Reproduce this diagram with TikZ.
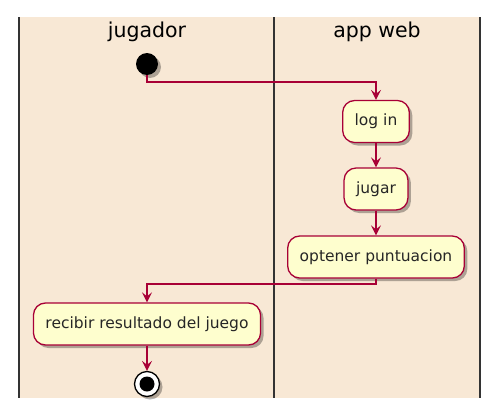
\documentclass[tikz,border=0pt]{standalone}
\usepackage{fontspec}
\setmainfont{DejaVu Sans}
\usetikzlibrary{arrows.meta,shadows,positioning}
\definecolor{lanebg}{HTML}{F8E8D5}
\definecolor{actfill}{HTML}{FEFECE}
\definecolor{actline}{HTML}{A80036}
\tikzset{
  act/.style={draw=actline, fill=actfill, line width=1.3pt, rounded corners=12pt,
    minimum height=42pt, inner xsep=12pt, font=\fontsize{15.5}{18}\selectfont, text=black!85,
    drop shadow={shadow xshift=3pt, shadow yshift=-3pt, fill=black, opacity=0.3}},
  flow/.style={draw=actline, line width=1.3pt, -{Stealth[length=10pt,width=10pt,inset=4pt]}},
  lane/.style={draw=black!80, line width=1.8pt},
  head/.style={font=\fontsize{20.5}{23}\selectfont, text=black}
}
\begin{document}
\begin{tikzpicture}[x=1pt,y=-1pt]
\useasboundingbox (0,0) rectangle (495,415);
\fill[white] (0,0) rectangle (495,415);
\fill[lanebg] (19,17) rectangle (480,398);
\draw[lane] (19,17) -- (19,398);
\draw[lane] (274,17) -- (274,398);
\draw[lane] (480,17) -- (480,398);
\node[head] (h1) at (147,32) {jugador};
\node[head] (h2) at (377,32) {app web};
\node[circle, fill=black, minimum size=22pt, inner sep=0pt,
  drop shadow={shadow xshift=3pt, shadow yshift=-3pt, fill=black, opacity=0.3}] (start) at (147,64) {};
\node[act] (login) at (376,121.5) {log in};
\node[act] (jugar) at (376,189) {jugar};
\node[act] (opt) at (376,257) {optener puntuacion};
\node[act] (recibir) at (147,324) {recibir resultado del juego};
\node[circle, draw=black, line width=1.3pt, fill=white, minimum size=25pt, inner sep=0pt,
  drop shadow={shadow xshift=3pt, shadow yshift=-3pt, fill=black, opacity=0.3}] (stop) at (147,384) {};
\node[circle, fill=black, minimum size=15pt, inner sep=0pt] (stopdot) at (stop.center) {};
\draw[flow] (start.south) -- (147,82) -| (login.north);
\draw[flow] (login) -- (jugar);
\draw[flow] (jugar) -- (opt);
\draw[flow] (opt.south) -- (376,284) -| (recibir.north);
\draw[flow] (recibir) -- (stop);
\end{tikzpicture}
\end{document}
